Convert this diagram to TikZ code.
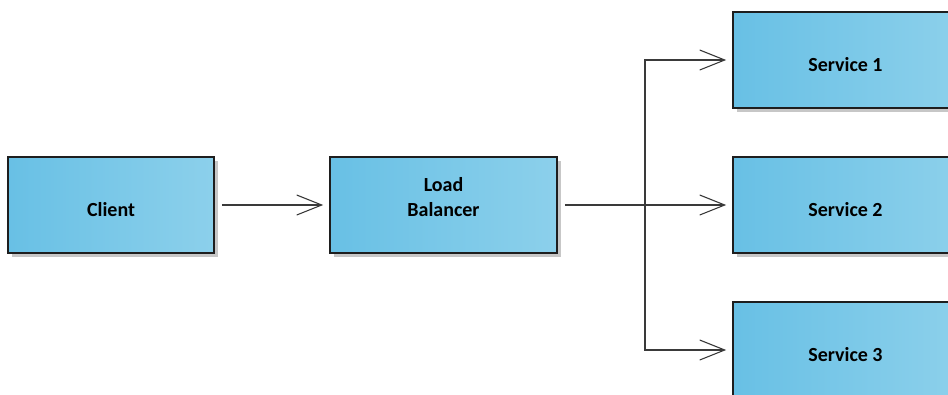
\documentclass[tikz,border=0pt]{standalone}
\usepackage{fontspec}
\setmainfont{Carlito}
\usetikzlibrary{arrows.meta,shadows}
\definecolor{boxleft}{HTML}{68C0E5}
\definecolor{boxright}{HTML}{8CD0EB}
\definecolor{boxedge}{HTML}{1E1E1E}
\definecolor{linecol}{HTML}{3A3A3A}
\tikzset{
  box/.style={draw=boxedge, line width=1.6pt, rectangle, left color=boxleft, right color=boxright,
    minimum height=96pt, inner sep=0pt, font=\fontsize{20}{24}\selectfont\bfseries, align=center,
    drop shadow={shadow xshift=4pt, shadow yshift=-4pt, fill=black!22, opacity=1}},
  arr/.style={draw=linecol, line width=1.1pt, -{Straight Barb[length=25pt,width=20pt]}},
}
\newcommand{\boxtext}[1]{\raisebox{-11.5pt}[0pt][0pt]{#1}}
\begin{document}
\begin{tikzpicture}[x=1pt,y=-1pt]
\useasboundingbox (0,0) rectangle (948,394);
\clip (0,0) rectangle (948,394);
\node[box, minimum width=206pt] (client) at (111,205) {\boxtext{Client}};
\node[box, minimum width=227pt] (lb) at (443.5,205) {\boxtext{\begin{tabular}[b]{@{}c@{}}Load\\[1pt]Balancer\end{tabular}}};
\node[box, minimum width=225pt] (s1) at (845.5,60) {\boxtext{Service 1}};
\node[box, minimum width=225pt] (s2) at (845.5,205) {\boxtext{Service 2}};
\node[box, minimum width=225pt] (s3) at (845.5,350) {\boxtext{Service 3}};
\coordinate (j) at (645,205);
\draw[arr, shorten <=7pt, shorten >=6pt] (client.east) -- (lb.west);
\draw[arr, shorten <=7pt, shorten >=6pt] (lb.east) -- (s2.west);
\draw[arr, shorten >=6pt] (j) |- (s1.west);
\draw[arr, shorten >=6pt] (j) |- (s3.west);
\end{tikzpicture}
\end{document}
